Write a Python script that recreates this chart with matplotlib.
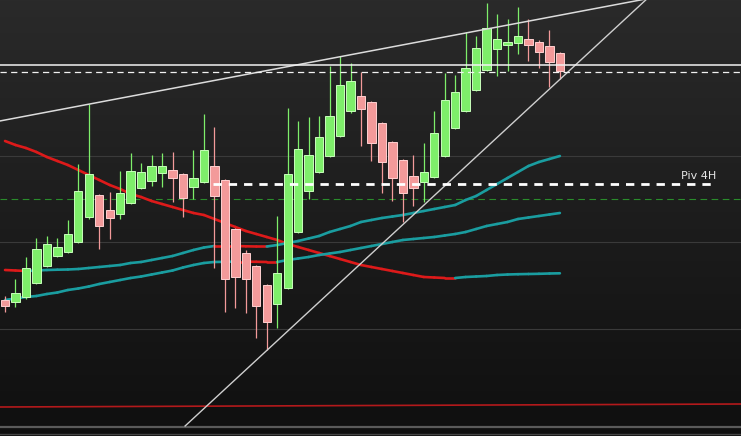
import matplotlib
matplotlib.use("Agg")
import matplotlib.pyplot as plt
import numpy as np
from matplotlib.collections import LineCollection

# Candle prices (arbitrary price units, one candle per bar)
opens = [136, 134, 139, 153, 170, 180, 184, 194, 219, 241, 226, 222, 233, 248, 255, 263, 266, 262,
         249, 254, 270, 256, 207, 183, 170, 151, 132, 148, 204, 245, 264, 280, 300, 325, 340, 334,
         313, 294, 276, 260, 254, 259, 280, 308, 325, 346, 366, 387, 391, 393, 397, 394, 390, 383]
highs = [140, 157, 179, 198, 200, 198, 216, 272, 332, 242, 244, 265, 283, 273, 281, 283, 284, 263,
         286, 322, 309, 257, 208, 186, 171, 152, 220, 328, 315, 319, 320, 370, 380, 373, 364, 335,
         314, 295, 277, 281, 293, 325, 363, 361, 404, 400, 433, 422, 417, 429, 417, 396, 406, 384]
lows = [124, 129, 137, 152, 169, 179, 183, 193, 217, 187, 197, 217, 232, 247, 250, 249, 234, 219,
        237, 253, 168, 124, 128, 123, 98, 86, 108, 147, 203, 237, 263, 279, 299, 323, 290, 275,
        243, 235, 214, 230, 234, 258, 279, 307, 324, 345, 365, 360, 365, 382, 375, 368, 349, 357]
closes = [130, 143, 168, 187, 192, 189, 202, 245, 262, 210, 218, 243, 265, 264, 270, 270, 258, 238,
          258, 286, 240, 157, 159, 157, 130, 114, 163, 262, 287, 281, 299, 320, 351, 355, 327, 293,
          274, 258, 243, 248, 264, 303, 336, 344, 368, 388, 408, 397, 394, 400, 391, 384, 374, 365]

# Moving averages
ma_slow = [295, 291, 288, 284, 279, 275, 271, 266, 261, 256, 251, 247, 242, 239, 235, 232, 229, 226,
           223, 221, 217, 213, 209, 205, 202, 199, 196, 192, 189, 186, 183, 180, 177, 174, 171, 169,
           167, 165, 163, 161, 159, 158.5, 158, 158, 159, 159.5, 160, 161, 161.5, 161.8, 162, 162.2,
           162.5, 162.7]
ma_fast = [166, 165.5, 165, 165.5, 166, 166.3, 166.5, 167, 168, 169, 170, 171, 173, 174, 176, 178,
           180, 183, 186, 188.5, 190, 190, 190, 189.7, 189.5, 189.5, 191, 193, 195, 197.5, 200, 204,
           207, 210, 214, 216, 218, 219.5, 221, 223, 225, 227, 229, 231, 236, 240, 246, 252, 258,
           264, 270, 274, 277, 280]
ma_mid = [136, 137.5, 139, 140, 142, 143.5, 146, 147.5, 149.5, 152, 154, 156, 158, 159.5, 161.5,
          163.5, 165.5, 168.5, 171, 173, 174, 174.2, 174.4, 174.4, 174.2, 174, 174, 176, 177.5, 179,
          181, 182.5, 184, 186, 188, 190, 192, 194, 196, 197, 198, 199, 200.5, 202, 204, 207, 210,
          212, 214, 217, 218.5, 220, 221.5, 223]

# Levels and drawn lines
resistance = 371
resistance_dash = 364
pivot_4h = 252
pivot_label = "Piv 4H"
green_level = 237
red_level = [29, 32]
grid_levels = [280, 194, 107]
upper_trend = ([-0.5, 70.3], [315, 455])
lower_trend = ([17.2, 61.2], [10, 436])

x = np.arange(len(opens))
o = np.array(opens)
c = np.array(closes)
up = c >= o

fig = plt.figure(figsize=(7.41, 4.36), dpi=100)
ax = fig.add_axes([0, 0, 1, 1])
x0, x1 = -0.48, 70.3
y0, y1 = 0, 436
ax.set_xlim(x0, x1)
ax.set_ylim(y0, y1)
ax.axis("off")

# background gradient
grad = np.linspace(0.165, 0.06, 256).reshape(-1, 1)
ax.imshow(np.dstack([grad, grad, grad]), extent=[x0, x1, y0, y1], aspect="auto", zorder=0,
          origin="upper")

for g in grid_levels:
    ax.axhline(g, color="#3a3a3a", lw=0.8, zorder=1)
ax.axhline(9, color="#5a5a5a", lw=1.6, zorder=1)
ax.axhline(2, color="#454545", lw=1.0, zorder=1)
ax.plot([x0, x1], red_level, color="#b3191b", lw=1.2, zorder=1)
ax.axhline(green_level, color="#2a8c2c", lw=0.8, ls=(0, (6, 4)), zorder=1)

# moving averages, red when not rising
def ma_line(vals):
    v = np.array(vals, dtype=float)
    pts = np.column_stack([x, v])
    segs = np.stack([pts[:-1], pts[1:]], axis=1)
    cols = np.where(np.diff(v) > 0, "#1a9da0", "#dd1a1a")
    ax.add_collection(LineCollection(segs, colors=cols, linewidths=1.9, capstyle="round", zorder=3))

ma_line(ma_slow)
ma_line(ma_fast)
ma_line(ma_mid)

# candles
green_fill, green_edge = "#7eee6a", "#c8ffbb"
red_fill, red_edge = "#f39a9a", "#ffd0d0"
fills = np.where(up, green_fill, red_fill)
edges = np.where(up, green_edge, red_edge)
ax.vlines(x, lows, highs, colors=fills, lw=0.9, zorder=4)
ax.bar(x, np.abs(c - o), bottom=np.minimum(o, c), width=0.8, color=fills, edgecolor=edges,
       linewidth=0.7, zorder=5)

# trend lines and horizontal levels
ax.plot(*upper_trend, color="#dcdcdc", lw=1.1, zorder=6)
ax.plot(*lower_trend, color="#cfcfcf", lw=1.0, zorder=6)
ax.axhline(resistance, color="#f2f2f2", lw=1.1, zorder=6)
ax.axhline(resistance_dash, color="#f2f2f2", lw=0.9, ls=(0, (5, 3.5)), zorder=6)
ax.plot([19.9, 67.9], [pivot_4h, pivot_4h], color="white", lw=2.0, ls=(0, (3, 2.5)), zorder=6)
ax.text(67.9, pivot_4h + 3, pivot_label, color="#e6e6e6", fontsize=8, ha="right", va="bottom",
        zorder=7)

fig.savefig("out.png", dpi=100)
